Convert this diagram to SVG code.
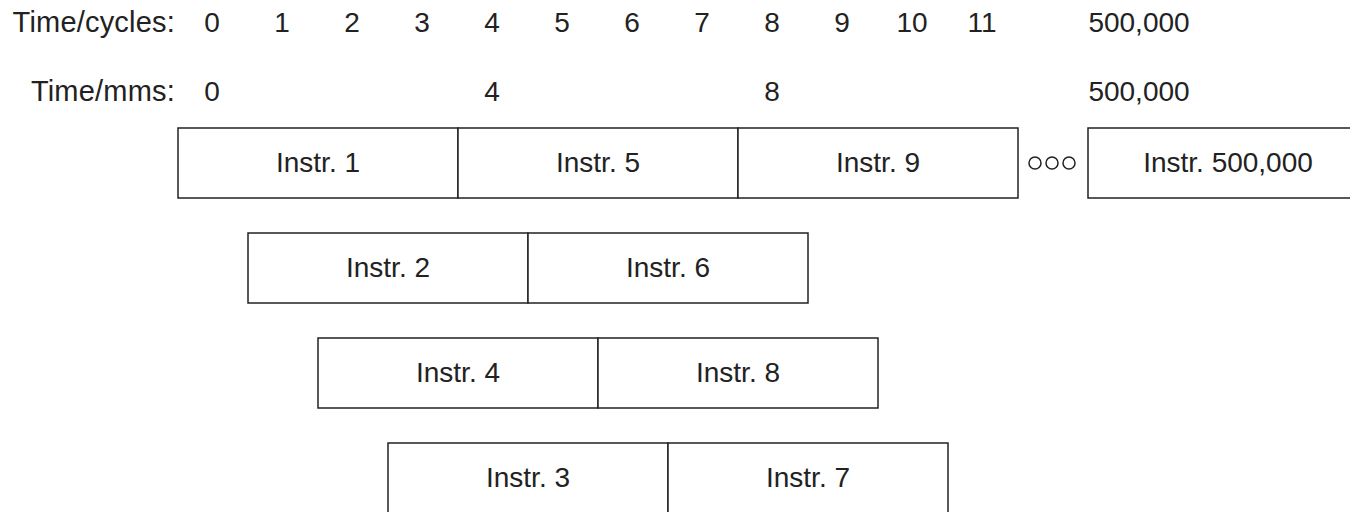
<svg xmlns="http://www.w3.org/2000/svg" width="1350" height="512" viewBox="0 0 1350 512">
<style>
text{font-family:"Liberation Sans",Arial,sans-serif;font-size:28px;fill:#222}
.c{text-anchor:middle}
.e{text-anchor:end;font-size:29px;letter-spacing:0.2px}
.box{fill:#fff;stroke:#222;stroke-width:1.5}
.dot{fill:none;stroke:#222;stroke-width:1.5}
</style>
<rect width="1350" height="512" fill="#fff"/>
<g id="axis-cycles">
<text class="e" x="175" y="32">Time/cycles:</text>
<text class="c" x="212" y="32">0</text>
<text class="c" x="282" y="32">1</text>
<text class="c" x="352" y="32">2</text>
<text class="c" x="422" y="32">3</text>
<text class="c" x="492" y="32">4</text>
<text class="c" x="562" y="32">5</text>
<text class="c" x="632" y="32">6</text>
<text class="c" x="702" y="32">7</text>
<text class="c" x="772" y="32">8</text>
<text class="c" x="842" y="32">9</text>
<text class="c" x="912" y="32">10</text>
<text class="c" x="982" y="32">11</text>
<text class="c" x="1139" y="32">500,000</text>
</g>
<g id="axis-mms">
<text class="e" x="175" y="101">Time/mms:</text>
<text class="c" x="212" y="101">0</text>
<text class="c" x="492" y="101">4</text>
<text class="c" x="772" y="101">8</text>
<text class="c" x="1139" y="101">500,000</text>
</g>
<g id="instr1"><rect class="box" x="178" y="128" width="280" height="70"/><text class="c" x="318" y="172">Instr. 1</text></g>
<g id="instr5"><rect class="box" x="458" y="128" width="280" height="70"/><text class="c" x="598" y="172">Instr. 5</text></g>
<g id="instr9"><rect class="box" x="738" y="128" width="280" height="70"/><text class="c" x="878" y="172">Instr. 9</text></g>
<g id="ellipsis">
<circle class="dot" cx="1035" cy="163" r="6"/>
<circle class="dot" cx="1052" cy="163" r="6"/>
<circle class="dot" cx="1069" cy="163" r="6"/>
</g>
<g id="instr500000"><rect class="box" x="1088" y="128" width="280" height="70"/><text class="c" x="1228" y="172">Instr. 500,000</text></g>
<g id="instr2"><rect class="box" x="248" y="233" width="280" height="70"/><text class="c" x="388" y="277">Instr. 2</text></g>
<g id="instr6"><rect class="box" x="528" y="233" width="280" height="70"/><text class="c" x="668" y="277">Instr. 6</text></g>
<g id="instr4"><rect class="box" x="318" y="338" width="280" height="70"/><text class="c" x="458" y="382">Instr. 4</text></g>
<g id="instr8"><rect class="box" x="598" y="338" width="280" height="70"/><text class="c" x="738" y="382">Instr. 8</text></g>
<g id="instr3"><rect class="box" x="388" y="443" width="280" height="90"/><text class="c" x="528" y="487">Instr. 3</text></g>
<g id="instr7"><rect class="box" x="668" y="443" width="280" height="90"/><text class="c" x="808" y="487">Instr. 7</text></g>
<g id="connectors"></g>
</svg>
